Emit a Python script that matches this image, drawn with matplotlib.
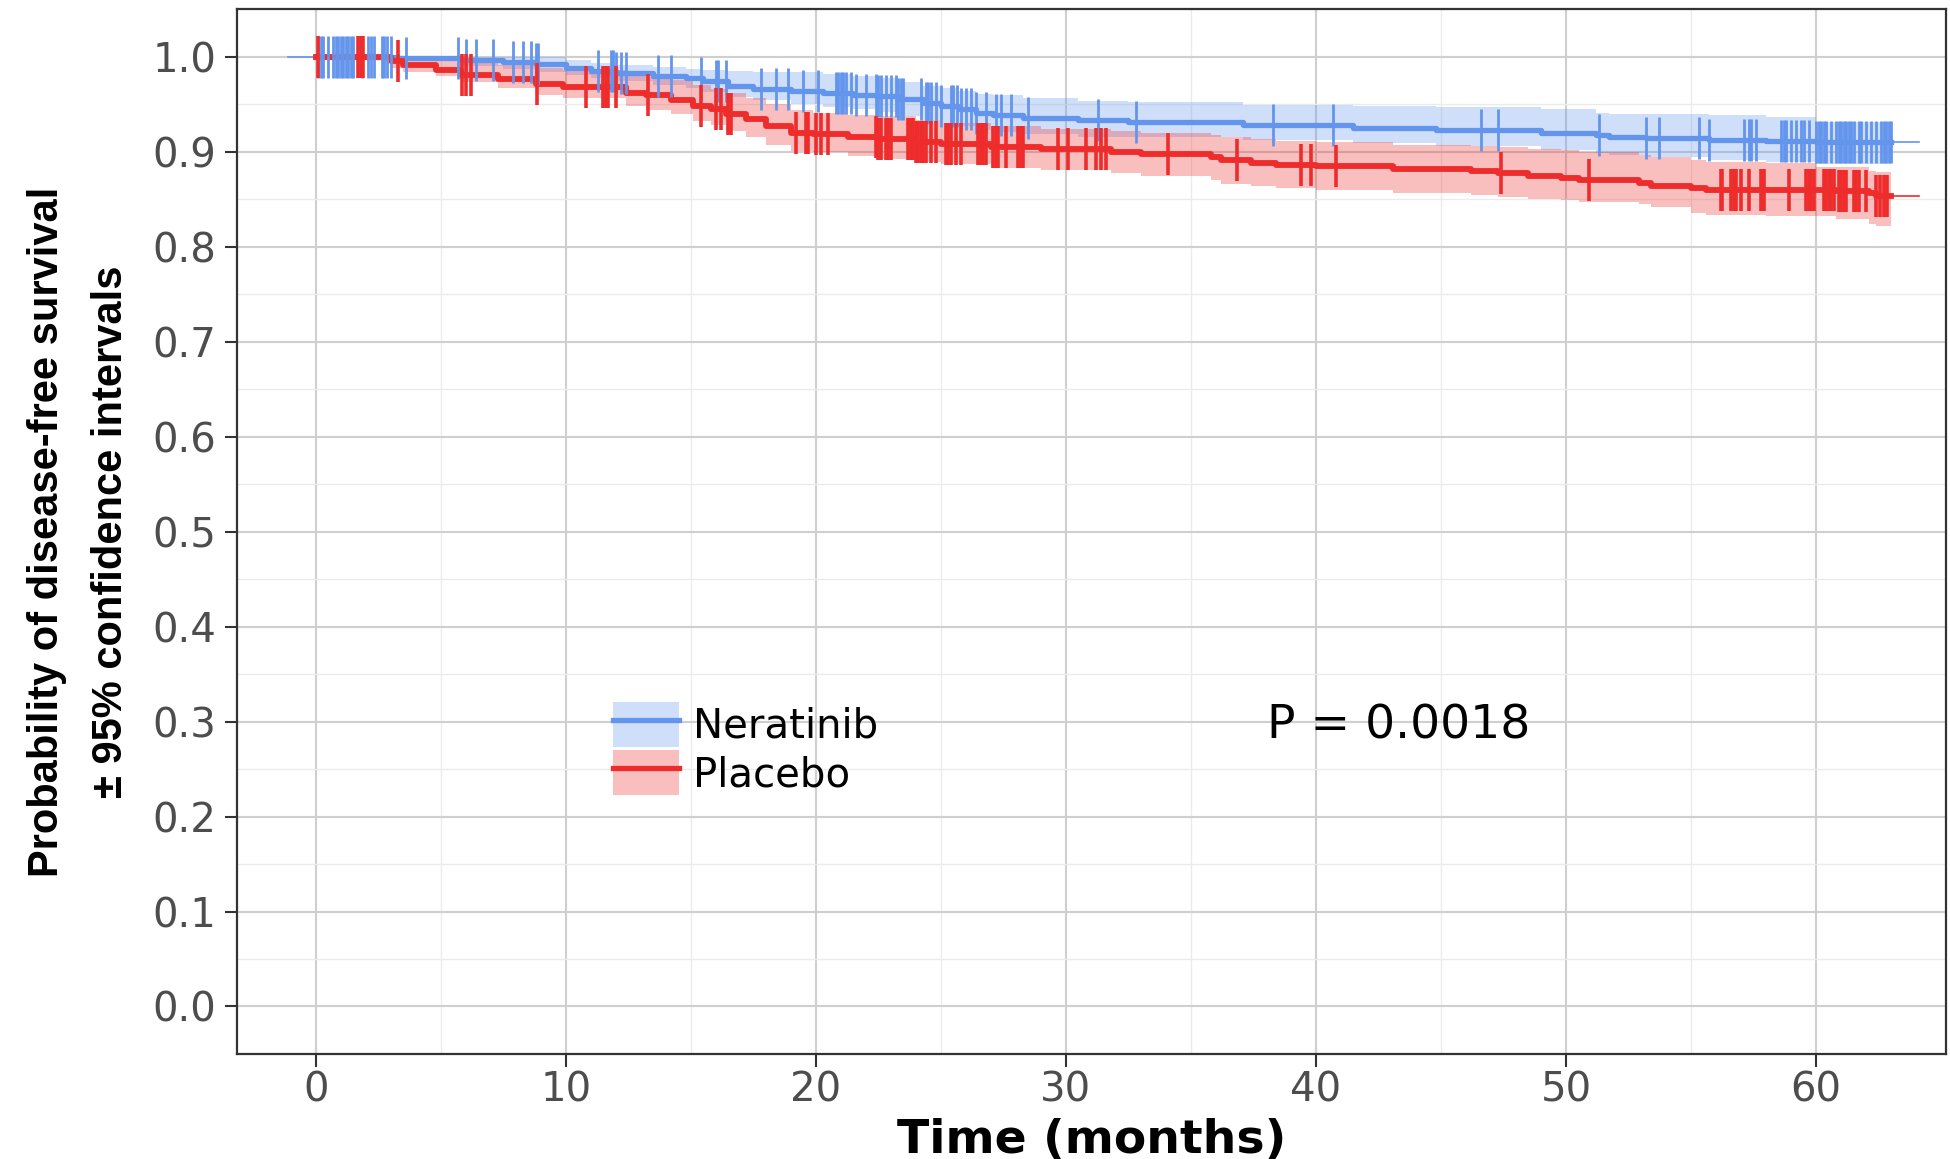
import numpy as np
import matplotlib
matplotlib.use("Agg")
import matplotlib.pyplot as plt
from matplotlib.patches import Patch
from matplotlib.lines import Line2D

plt.rcParams["font.family"] = ["DejaVu Sans"]

# Kaplan-Meier estimates (months, survival, 95% CI) per arm
ner_t = [0, 3.3, 5.8, 7.5, 8.8, 10.0, 11.0, 12.0, 13.5, 14.8,
         15.5, 16.5, 17.5, 19.0, 20.3, 21.5, 22.5, 23.3, 24.3, 25.0,
         25.7, 26.4, 27.1, 28.3, 30.5, 32.5, 37.1, 41.5, 44.8, 49.0,
         51.2, 51.7, 53.2, 55.7, 58.0, 60.0]
ner_s = [1.000, .998, .996, .994, .992, .988, .985, .983, .980, .977,
         .974, .969, .966, .964, .962, .960, .958, .955, .951, .948,
         .945, .941, .938, .935, .933, .931, .928, .925, .923, .920,
         .917, .915, .914, .912, .911, .910]
ner_lo = [1.000, .995, .990, .987, .984, .981, .977, .974, .970, .967,
          .963, .957, .954, .950, .947, .945, .942, .937, .933, .930,
          .927, .923, .921, .918, .915, .915, .912, .909, .906, .902,
          .898, .896, .894, .891, .889, .887]
ner_hi = [1.000, 1.000, 1.000, 1.000, .999, .996, .993, .991, .989, .987,
          .986, .985, .984, .984, .982, .980, .977, .973, .969, .967,
          .964, .961, .959, .956, .953, .952, .949, .948, .947, .945,
          .941, .940, .939, .938, .936, .931]

pla_t = [0, 3.0, 3.5, 4.8, 5.8, 7.3, 8.8, 9.9,
         12.4, 13.2, 14.2, 15.1, 15.8, 16.4, 17.2, 18.0, 19.0, 19.9,
         21.3, 22.5, 24.0, 25.0, 27.0, 29.0, 31.8, 33.0, 35.8, 36.2,
         37.4, 38.4, 40.0, 43.1, 46.2, 47.3, 48.5, 49.8, 50.5, 52.9,
         53.4, 55.0, 55.6, 58.0, 60.0, 60.8, 62.1, 62.4]
pla_s = [1.000, .995, .991, .986, .981, .976, .971, .968,
         .962, .959, .954, .948, .945, .940, .934, .927, .920, .918,
         .915, .913, .910, .908, .905, .903, .899, .897, .894, .891,
         .888, .886, .885, .882, .879, .877, .874, .872, .870, .867,
         .864, .862, .860, .859, .859, .858, .856, .853]
pla_lo = [1.000, .988, .984, .979, .973, .967, .960, .956,
          .948, .944, .939, .932, .928, .922, .915, .907, .901, .899,
          .895, .892, .889, .887, .883, .881, .877, .874, .870, .866,
          .864, .862, .860, .856, .854, .852, .850, .849, .847, .845,
          .842, .835, .833, .832, .832, .829, .824, .822]
pla_hi = [1.000, .999, .998, .996, .993, .991, .988, .986,
          .981, .978, .975, .970, .966, .962, .956, .950, .944, .941,
          .938, .937, .933, .930, .927, .924, .922, .919, .917, .915,
          .913, .911, .910, .907, .906, .905, .903, .902, .900, .896,
          .894, .891, .889, .888, .884, .884, .879, .878]

# censoring times (months)
ner_cens = [0.1, 0.2, 0.3, 0.5, 0.7, 0.8, 0.9, 1.0, 1.1, 1.2, 1.3, 1.4, 1.5,
            1.85, 2.1, 2.2, 2.35, 2.65, 2.75, 2.85, 3.0, 3.6, 5.7, 6.0, 6.4,
            7.1, 7.9, 8.3, 8.6, 8.8, 8.9, 11.3, 11.8, 11.9, 12.0, 12.2, 12.4,
            13.7, 14.2, 15.4, 16.0, 16.1, 16.4, 17.8, 18.4, 18.9, 19.5, 20.1,
            20.8, 20.9, 21.0, 21.1, 21.2, 21.4, 21.6, 22.0, 22.4, 22.5, 22.6,
            22.8, 23.0, 23.2, 23.3, 23.4, 23.5, 24.2, 24.4, 24.5, 24.6, 24.8,
            25.0, 25.4, 25.5, 25.65, 25.8, 26.0, 26.2, 26.4, 26.8, 27.2, 27.4,
            27.8, 28.5, 31.3, 32.8, 38.3, 40.7, 46.6, 47.3, 51.3, 53.2, 53.7,
            55.3, 55.7, 57.1, 57.3, 57.4, 57.6, 58.6, 58.7, 58.8, 59.0, 59.2,
            59.4, 59.5, 59.7, 60.0, 60.1, 60.2, 60.3, 60.4, 60.6, 60.8, 60.9,
            61.0, 61.1, 61.2, 61.3, 61.4, 61.5, 61.7, 61.8, 62.0, 62.2, 62.4,
            62.6, 62.7, 62.8, 62.9, 63.0]
pla_cens = [0.1, 1.7, 1.8, 1.9, 3.3, 5.85, 6.0, 6.2, 8.85, 10.8, 11.5, 11.6,
            11.7, 12.0, 13.3, 15.4, 16.0, 16.2, 16.5, 16.6, 19.2, 19.6, 19.7,
            20.0, 20.2, 20.5, 22.4, 22.5, 22.6, 22.8, 22.9, 23.0, 23.7, 23.8,
            23.9, 24.0, 24.1, 24.2, 24.3, 24.4, 24.6, 24.8, 25.2, 25.3, 25.4,
            25.6, 25.8, 26.5, 26.6, 26.7, 26.8, 27.1, 27.2, 27.3, 27.6, 28.1,
            28.2, 28.3, 29.7, 30.1, 30.8, 31.2, 31.4, 31.6, 34.1, 36.85, 39.4,
            39.8, 40.8, 47.4, 50.9, 56.2, 56.25, 56.6, 56.7, 56.8, 57.0, 57.3,
            57.8, 57.85, 57.9, 58.9, 59.6, 59.7, 59.8, 59.9, 60.3, 60.4, 60.5,
            60.6, 60.7, 60.9, 61.0, 61.1, 61.2, 61.5, 61.6, 61.7, 62.0, 62.4,
            62.55, 62.7, 62.85]

last_t = 63.0     # end of follow-up for the step curves
tail_t = 64.1     # end of the thin trailing segment
lead_t = -1.1     # start of the thin leading segment

arms = ["Neratinib", "Placebo"]
colors = {"Neratinib": "#6495ED", "Placebo": "#EE2C2C"}

fig = plt.figure(figsize=(19.5, 11.59), dpi=100)
ax = fig.add_axes([0.1215, 0.0906, 0.8765, 0.9016])


def draw_arm(name, t, s, lo, hi, cens, lw, tick_w):
    c = colors[name]
    tt = np.append(t, last_t)
    ss = np.append(s, s[-1])
    ax.fill_between(tt, np.append(lo, lo[-1]), np.append(hi, hi[-1]),
                    step="post", color=c, alpha=0.3, lw=0, zorder=2)
    ax.step(tt, ss, where="post", color=c, lw=lw, zorder=4)
    ax.plot([last_t, tail_t], [s[-1], s[-1]], color=c, lw=1.2, zorder=4)
    idx = np.searchsorted(t, cens, side="right") - 1
    ax.plot(cens, np.asarray(s)[idx], ls="none", marker="|", ms=30,
            mew=tick_w, color=c, zorder=5)


ax.plot([lead_t, 0], [1.0, 1.0], color=colors["Neratinib"], lw=1.2, zorder=4)
draw_arm("Neratinib", ner_t, ner_s, ner_lo, ner_hi, ner_cens, 3.8, 2.0)
draw_arm("Placebo", pla_t, pla_s, pla_lo, pla_hi, pla_cens, 4.2, 2.6)

ax.set_xlim(-3.15, 65.2)
ax.set_ylim(-0.05, 1.05)
ax.set_xticks(np.arange(0, 61, 10))
ax.set_xticks(np.arange(5, 56, 10), minor=True)
ax.set_yticks(np.round(np.arange(0, 1.01, 0.1), 1))
ax.set_yticks(np.arange(0.05, 1.0, 0.1), minor=True)
ax.yaxis.set_major_formatter(matplotlib.ticker.FormatStrFormatter("%.1f"))
ax.grid(which="major", color="#CFCFCF", lw=1.5)
ax.grid(which="minor", color="#EBEBEB", lw=1.0)
ax.set_axisbelow(True)
ax.tick_params(which="major", direction="out", length=9, width=1.5,
               color="#333333", labelcolor="#4D4D4D", labelsize=29)
ax.tick_params(axis="x", pad=3)
ax.tick_params(axis="y", pad=6)
ax.tick_params(which="minor", length=0)
for sp in ax.spines.values():
    sp.set_color("#333333")
    sp.set_linewidth(1.6)

ax.set_xlabel("Time (months)", fontsize=34, fontweight="bold", labelpad=5)
ax.set_ylabel("Probability of disease-free survival\n± 95% confidence intervals",
              fontsize=30, fontweight="bold", family="Liberation Sans",
              linespacing=1.8, labelpad=15)

handles = [(Patch(facecolor=colors[a], alpha=0.3, lw=0),
            Line2D([], [], color=colors[a], lw=3.8)) for a in arms]
ax.legend(handles, arms, loc="upper left", bbox_to_anchor=(11.9, 0.321),
          bbox_transform=ax.transData, frameon=False, fontsize=29,
          handlelength=1.62, handleheight=1.35, handletextpad=0.35,
          labelspacing=0.08, borderpad=0, borderaxespad=0)

ax.text(43.3, 0.295, "P = 0.0018", fontsize=34, ha="center", va="center")

fig.savefig("out.png", dpi=100)
